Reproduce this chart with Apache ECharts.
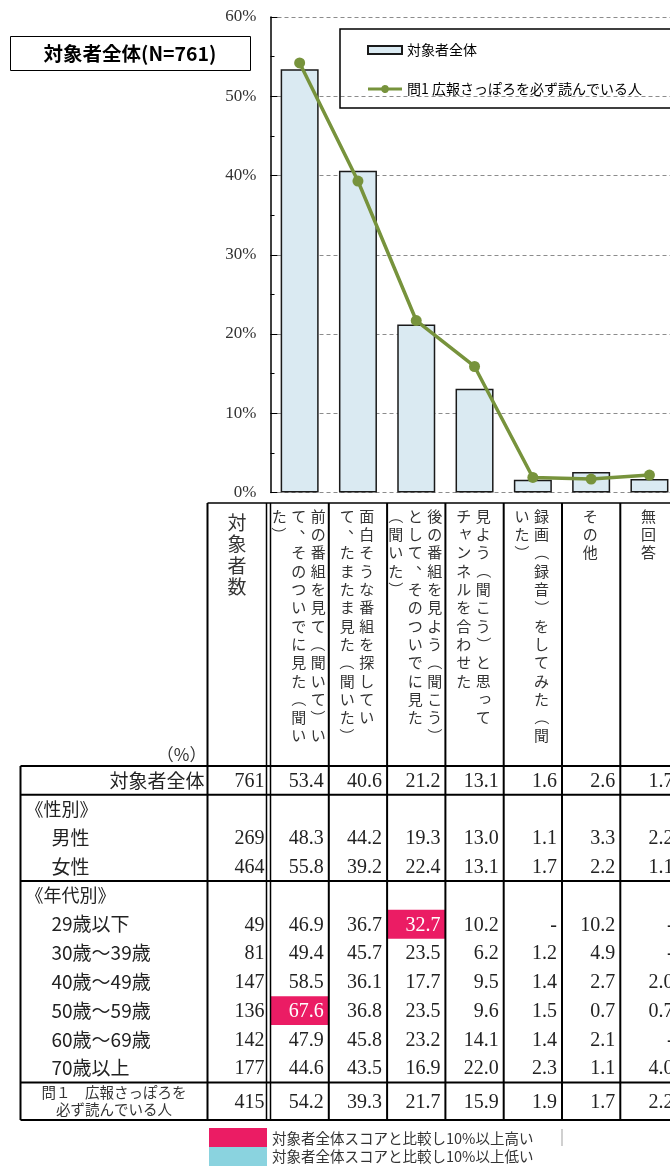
<!DOCTYPE html>
<html>
<head>
<meta charset="utf-8">
<script src="https://cdn.jsdelivr.net/npm/echarts@6/dist/echarts.min.js"></script>
<style>
  html, body { margin: 0; padding: 0; background: #fff; }
  #main { width: 670px; height: 1166px; }
</style>
</head>
<body>
<div id="main"></div>
<script>
// 選択肢（グラフの横軸・表の列）
var choices = [
  '前の番組を見て（聞いて）いて、そのついでに見た（聞いた）',
  '面白そうな番組を探していて、たまたま見た（聞いた）',
  '後の番組を見よう（聞こう）として、そのついでに見た（聞いた）',
  '見よう（聞こう）と思ってチャンネルを合わせた',
  '録画（録音）をしてみた（聞いた）',
  'その他',
  '無回答'
]
var overall = [53.4, 40.6, 21.2, 13.1, 1.6, 2.6, 1.7]
var readers = [54.2, 39.3, 21.7, 15.9, 1.9, 1.7, 2.2]
var male = [48.3, 44.2, 19.3, 13.0, 1.1, 3.3, 2.2]
var female = [55.8, 39.2, 22.4, 13.1, 1.7, 2.2, 1.1]
var age20s = [46.9, 36.7, 32.7, 10.2, null, 10.2, null]
var age30s = [49.4, 45.7, 23.5, 6.2, 1.2, 4.9, null]
var age40s = [58.5, 36.1, 17.7, 9.5, 1.4, 2.7, 2.0]
var age50s = [67.6, 36.8, 23.5, 9.6, 1.5, 0.7, 0.7]
var age60s = [47.9, 45.8, 23.2, 14.1, 1.4, 2.1, null]
var age70s = [44.6, 43.5, 16.9, 22.0, 2.3, 1.1, 4.0]

var rowLabels = ['対象者全体', '《性別》', '男性', '女性', '《年代別》', '29歳以下', '30歳～39歳',
  '40歳～49歳', '50歳～59歳', '60歳～69歳', '70歳以上', '問１　広報さっぽろを\n必ず読んでいる人']
var rowCounts = [761, null, 269, 464, null, 49, 81, 147, 136, 142, 177, 415]
var rowValues = [overall, null, male, female, null, age20s, age30s, age40s, age50s, age60s, age70s, readers]

var barName = '対象者全体'
var lineName = '問1 広報さっぽろを必ず読んでいる人'

var CJK = '"Noto Sans CJK JP", sans-serif'
var SERIF = '"Liberation Serif", serif'
var PINK = '#eb1c64'
var CYAN = '#8ad3df'
// 表のレイアウト（y軸の単位 = 1行）
var HEADER_U = 9.135
var LAST_ROW_U = 1.3
var COUNT_W = 59
var DOUBLE_GAP = 4
var LABEL_W = 187
var V_STEP = 18.3

var NO_START = '、。）︶ぁぃぅぇぉっゃゅょァィゥェォッャュョー'
var NO_END = '（'
function wrapVertical (s, max) {
  var cols = []
  while (s.length > max) {
    var n = max
    while (n > 1 && (NO_START.indexOf(s.charAt(n)) >= 0 || NO_END.indexOf(s.charAt(n - 1)) >= 0)) n--
    cols.push(s.slice(0, n))
    s = s.slice(n)
  }
  cols.push(s)
  return cols
}

function txt (x, y, text, opt) {
  var style = { text: text, fill: '#222', fontFamily: SERIF, fontSize: 20, align: 'right', verticalAlign: 'middle' }
  for (var k in (opt || {})) style[k] = opt[k]
  return { type: 'text', x: x, y: y, silent: true, style: style }
}
function ln (x1, y1, x2, y2, w) {
  return { type: 'line', silent: true, shape: { x1: x1, y1: y1, x2: x2, y2: y2 }, style: { stroke: '#000', lineWidth: w || 2 } }
}
// 縦書き：1文字ずつ置き、括弧は回転、読点は右上へ
function verticalText (kids, x, yTop, s, size, step) {
  s.split('').forEach(function (ch, k) {
    var y = yTop + step * (k + 0.5)
    var el = txt(x, y, ch, { fontFamily: CJK, fontSize: size, align: 'center', fill: '#333' })
    if (ch === '（' || ch === '）') {
      el.rotation = -Math.PI / 2
    } else if (ch === '、' || ch === '。') {
      el.x = x + size * 0.55
      el.y = y - size * 0.5
    } else if ('っゃゅょャュョッァィゥェォ'.indexOf(ch) >= 0) {
      el.x = x + size * 0.12
      el.y = y - size * 0.12
    }
    kids.push(el)
  })
}

function renderRow (params, api) {
  var i = params.dataIndex
  var cs = params.coordSys
  var bw = api.size([1, 0])[0]
  var unit = api.size([0, 1])[1]
  var last = rowLabels.length - 1
  var x0 = cs.x
  var top = api.coord([0, i])[1]
  var h = (i === last ? LAST_ROW_U : 1) * unit
  var cy = top + h / 2
  var countR = x0 - DOUBLE_GAP
  var countL = countR - COUNT_W
  var labelL = countL - LABEL_W
  var kids = []
  var label = rowLabels[i]
  if (i === 0) {
    kids.push(txt(countL - 3, cy, label, { fontFamily: CJK, fontSize: 19 }))
  } else if (i === last) {
    kids.push(txt((labelL + countL) / 2, cy, label, { fontFamily: CJK, fontSize: 14.5, lineHeight: 17, align: 'center', fill: '#333' }))
  } else if (label.charAt(0) === '《') {
    kids.push(txt(labelL + 5, cy, label, { fontFamily: CJK, fontSize: 18, align: 'left' }))
  } else {
    kids.push(txt(labelL + 31, cy, label, { fontFamily: CJK, fontSize: 19, align: 'left' }))
  }
  if (rowCounts[i] != null) kids.push(txt(countR - 2, cy + 1, String(rowCounts[i])))
  var vals = rowValues[i]
  if (vals) {
    vals.forEach(function (v, c) {
      var cl = x0 + c * bw
      var color = '#222'
      if (i > 0 && v != null) {
        var d = v - overall[c]
        if (d >= 10 || d <= -10) {
          kids.push({ type: 'rect', silent: true, shape: { x: cl, y: top, width: bw, height: h }, style: { fill: d > 0 ? PINK : CYAN } })
          if (d > 0) color = '#fff'
        }
      }
      kids.push(txt(cl + bw - 5, cy + 1, v == null ? '-' : v.toFixed(1), { fill: color }))
    })
  }
  return { type: 'group', children: kids }
}

function renderFrame (params, api) {
  var cs = params.coordSys
  var bw = api.size([1, 0])[0]
  var last = rowLabels.length - 1
  var x0 = cs.x
  var xR = x0 + choices.length * bw
  var countR = x0 - DOUBLE_GAP
  var countL = countR - COUNT_W
  var labelL = countL - LABEL_W
  var yH = api.coord([0, -HEADER_U])[1]
  var y0 = api.coord([0, 0])[1]
  var yEnd = api.coord([0, last + LAST_ROW_U])[1]
  var kids = []

  // 見出し（縦書き）
  verticalText(kids, (countL + countR) / 2, yH + 9, '対象者数', 19, 21.5)
  choices.forEach(function (s, c) {
    var cols = wrapVertical(s, 13)
    var cx = x0 + (c + 0.5) * bw - 1
    cols.forEach(function (col, j) {
      verticalText(kids, cx + ((cols.length - 1) / 2 - j) * 19.5, yH + 4, col, 15, V_STEP)
    })
  })
  kids.push(txt(countL - 1, y0 - 3, '（%）', { fontFamily: CJK, fontSize: 17, verticalAlign: 'bottom', fill: '#333' }))

  // 罫線
  rowLabels.forEach(function (l, i) {
    if (i === 0 || i === 1 || i === last || l.charAt(0) === '《') {
      var y = api.coord([0, i])[1]
      kids.push(ln(labelL, y, xR, y, 2))
    }
  })
  kids.push(ln(labelL, yEnd, xR, yEnd, 2))
  kids.push(ln(countL, yH, xR, yH, 1.5))
  kids.push(ln(labelL, y0, labelL, yEnd, 2))
  kids.push(ln(countL, yH, countL, yEnd, 2))
  kids.push(ln(countR, yH, countR, yEnd, 1.5))
  kids.push(ln(x0, yH, x0, yEnd, 1.5))
  for (var k = 1; k <= choices.length; k++) {
    kids.push(ln(x0 + k * bw, yH, x0 + k * bw, yEnd, 2))
  }
  return { type: 'group', children: kids }
}

var myChart = echarts.init(document.getElementById('main'))
var option = {
  backgroundColor: '#fff',
  animation: false,
  graphic: [
    { type: 'rect', left: 10, top: 36, shape: { width: 240, height: 34 }, style: { fill: '#fff', stroke: '#000', lineWidth: 1 } },
    { type: 'text', x: 130, y: 54, style: { text: '対象者全体(N=761)', fill: '#000', fontFamily: CJK, fontSize: 19.5, fontWeight: 'bold', align: 'center', verticalAlign: 'middle' } },
    { type: 'rect', left: 209, top: 1128, shape: { width: 58, height: 19 }, style: { fill: PINK } },
    { type: 'rect', left: 209, top: 1147, shape: { width: 58, height: 19 }, style: { fill: CYAN } },
    { type: 'text', x: 272, y: 1138, style: { text: '対象者全体スコアと比較し10%以上高い', fill: '#333', fontFamily: CJK, fontSize: 14.5, verticalAlign: 'middle' } },
    { type: 'text', x: 272, y: 1156, style: { text: '対象者全体スコアと比較し10%以上低い', fill: '#333', fontFamily: CJK, fontSize: 14.5, verticalAlign: 'middle' } },
    { type: 'rect', left: 561, top: 1129, shape: { width: 2, height: 17 }, style: { fill: '#d0d0d0' } }
  ],
  legend: {
    orient: 'vertical',
    left: 340,
    top: 29,
    borderColor: '#000',
    borderWidth: 1.5,
    padding: [14, 80, 12, 27],
    itemGap: 25,
    itemWidth: 34,
    itemHeight: 8,
    textStyle: { fontFamily: CJK, fontSize: 14, color: '#000' },
    data: [
      { name: barName, icon: 'rect' },
      { name: lineName, icon: 'path://M0,2.5H13.3A4,4,0,0,1,20.7,2.5H34V5.5H20.7A4,4,0,0,1,13.3,5.5H0Z' }
    ]
  },
  grid: [
    { left: 270.5, top: 17, width: 408.1, height: 475.5, outerBoundsMode: 'none' },
    { left: 270.5, top: 503, width: 408.1, height: 617, outerBoundsMode: 'none' }
  ],
  xAxis: [{
    type: 'category',
    gridIndex: 0,
    data: choices,
    axisLine: { show: false },
    axisTick: { show: false },
    axisLabel: { show: false }
  }, {
    type: 'category',
    gridIndex: 1,
    data: choices,
    show: false
  }],
  yAxis: [{
    type: 'value',
    gridIndex: 0,
    min: 0,
    max: 60,
    interval: 10,
    axisLine: { show: true, lineStyle: { color: '#000', width: 1.5 } },
    axisTick: { show: true, inside: true, length: 7, lineStyle: { color: '#000' } },
    minorTick: { show: true, splitNumber: 2, length: 4, lineStyle: { color: '#000' } },
    axisLabel: { formatter: '{value}%', fontFamily: SERIF, fontSize: 17, color: '#333', margin: 14 },
    splitLine: { show: true, lineStyle: { color: '#8c8c8c', type: [4, 3], width: 1 } }
  }, {
    type: 'value',
    gridIndex: 1,
    inverse: true,
    min: -HEADER_U,
    max: rowLabels.length - 1 + LAST_ROW_U,
    show: false
  }],
  series: [{
    name: barName,
    type: 'bar',
    barWidth: 38,
    data: overall,
    itemStyle: { color: '#daeaf2', borderColor: '#1a1a1a', borderWidth: 1.5 }
  }, {
    name: lineName,
    type: 'line',
    data: readers,
    symbol: 'circle',
    symbolSize: 11,
    z: 5,
    lineStyle: { color: '#77933c', width: 3.5 },
    itemStyle: { color: '#77933c' }
  }, {
    type: 'custom',
    xAxisIndex: 1,
    yAxisIndex: 1,
    silent: true,
    data: rowLabels.map(function (l, i) { return [0, i] }),
    renderItem: renderRow
  }, {
    type: 'custom',
    xAxisIndex: 1,
    yAxisIndex: 1,
    silent: true,
    data: [[0, 0]],
    renderItem: renderFrame
  }]
}
myChart.setOption(option, true)
window.addEventListener('resize', function () {
  myChart.resize()
})
</script>
</body>
</html>
